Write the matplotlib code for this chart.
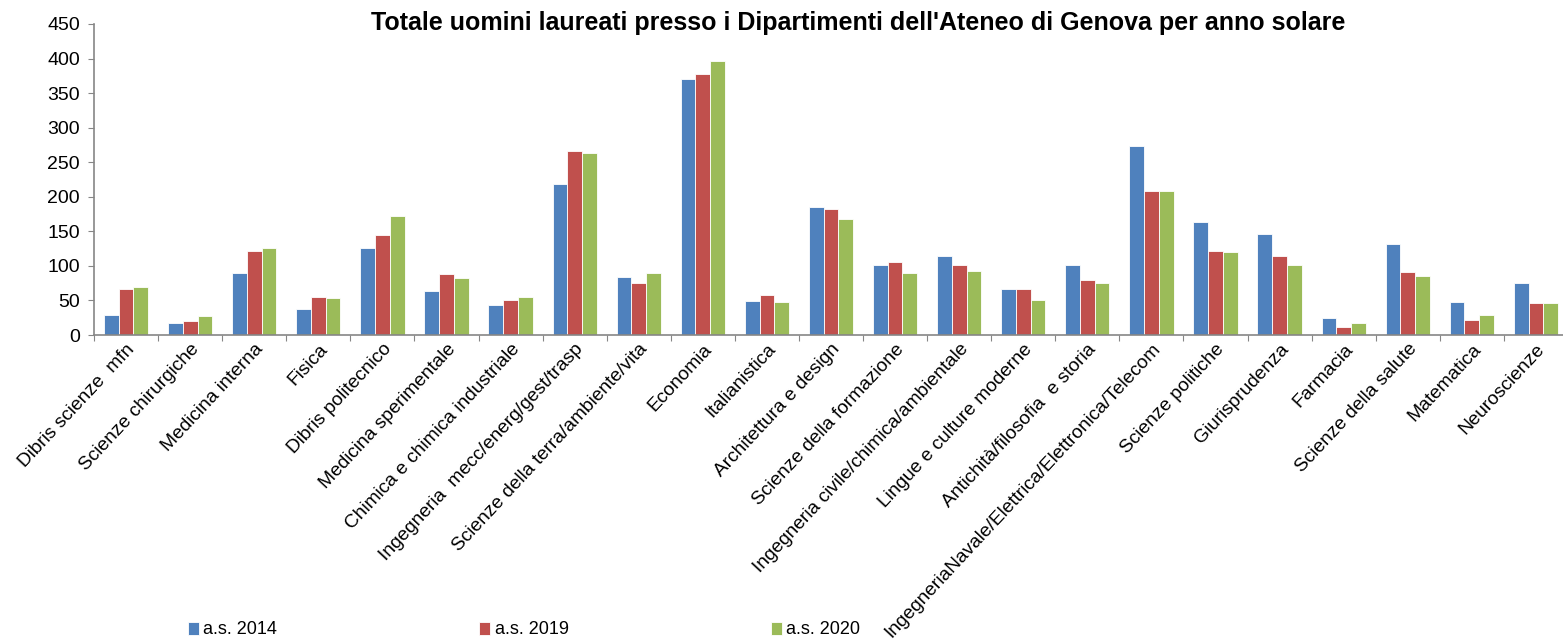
import matplotlib.pyplot as plt
import numpy as np

plt.rcParams["font.family"] = ["Liberation Sans", "DejaVu Sans"]

departments = [
    "Dibris scienze  mfn", "Scienze chirurgiche", "Medicina interna", "Fisica",
    "Dibris politecnico", "Medicina sperimentale", "Chimica e chimica industriale",
    "Ingegneria  mecc/energ/gest/trasp", "Scienze della terra/ambiente/vita",
    "Economia", "Italianistica", "Architettura e design", "Scienze della formazione",
    "Ingegneria civile/chimica/ambientale", "Lingue e culture moderne",
    "Antichità/filosofia  e storia", "IngegneriaNavale/Elettrica/Elettronica/Telecom",
    "Scienze politiche", "Giurisprudenza", "Farmacia", "Scienze della salute",
    "Matematica", "Neuroscienze",
]
as_2014 = [29, 18, 89, 38, 126, 64, 44, 219, 84, 370, 49, 185, 102, 114, 67,
           101, 274, 163, 146, 24, 132, 48, 75]
as_2019 = [66, 20, 122, 55, 145, 88, 51, 266, 75, 378, 58, 182, 106, 102, 67,
           79, 208, 122, 115, 11, 91, 22, 46]
as_2020 = [69, 27, 126, 53, 172, 82, 55, 263, 89, 396, 48, 168, 89, 93, 51,
           75, 208, 120, 101, 17, 86, 29, 46]
series = [("a.s. 2014", as_2014, "#4F81BD"),
          ("a.s. 2019", as_2019, "#C0504D"),
          ("a.s. 2020", as_2020, "#9BBB59")]

fig = plt.figure(figsize=(15.63, 6.4), dpi=100)
ax = fig.add_axes([94 / 1563, 1 - 335 / 640, 1474 / 1563, 311 / 640])

x = np.arange(len(departments))
width = 0.23
for i, (label, values, color) in enumerate(series):
    ax.bar(x + (i - 1) * width, values, width, color=color, label=label,
           edgecolor="white", linewidth=0.6)

ax.set_xlim(-0.5, len(departments) - 0.5)
ax.set_ylim(0, 450)
ax.set_yticks(np.arange(0, 451, 50))
ax.tick_params(axis="y", labelsize=14, length=4, color="#868686", pad=6)

# boundaries get the tick marks, centres get the labels
ax.set_xticks(np.arange(len(departments) + 1) - 0.5, minor=False)
ax.set_xticklabels([])
ax.set_xticks(x, minor=True)
ax.set_xticklabels(departments, minor=True, rotation=47, ha="right",
                   rotation_mode="anchor", fontsize=13.8)
ax.tick_params(axis="x", which="major", length=4, color="#868686")
ax.tick_params(axis="x", which="minor", length=0, pad=4)

for side in ("top", "right"):
    ax.spines[side].set_visible(False)
for side in ("left", "bottom"):
    ax.spines[side].set_color("#868686")
    ax.spines[side].set_linewidth(1.2)

fig.text(858 / 1563, 1 - 23 / 640,
         "Totale uomini laureati presso i Dipartimenti dell'Ateneo di Genova per anno solare",
         ha="center", va="center", fontsize=18, fontweight="bold")

fig.legend(loc="center left", bbox_to_anchor=(188 / 1563, 1 - 630 / 640),
           ncol=3, frameon=False, fontsize=13, borderpad=0, borderaxespad=0,
           handlelength=0.6, handleheight=0.7, handletextpad=0.25,
           columnspacing=11.2)

fig.savefig("out.png", dpi=100)
